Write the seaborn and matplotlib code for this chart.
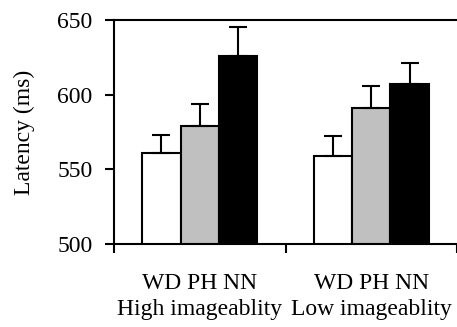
import numpy as np
import pandas as pd
import seaborn as sns
import matplotlib.pyplot as plt

# values
groups = ["High imageablity", "Low imageablity"]
conditions = ["WD", "PH", "NN"]
latency_high = [561, 579, 626]
latency_low = [559, 591, 607]
sem_high = [12, 15, 19]
sem_low = [13, 15, 14]
bar_colors = ["white", "#c0c0c0", "black"]

df = pd.DataFrame({
    "group": np.repeat(groups, len(conditions)),
    "condition": conditions * len(groups),
    "latency": latency_high + latency_low,
})
errs = {"High imageablity": dict(zip(conditions, sem_high)),
        "Low imageablity": dict(zip(conditions, sem_low))}

sns.set_style("ticks")
plt.rcParams["font.family"] = ["Liberation Serif", "DejaVu Serif"]
plt.rcParams["text.color"] = "black"
plt.rcParams["axes.labelcolor"] = "black"
plt.rcParams["xtick.color"] = "black"
plt.rcParams["ytick.color"] = "black"
fs = 17

fig = plt.figure(figsize=(4.57, 3.27), dpi=100)
ax = fig.add_axes([0.2495, 0.2538, 0.7505, 0.685])

sns.barplot(data=df, x="group", y="latency", hue="condition",
            order=groups, hue_order=conditions, palette=bar_colors,
            edgecolor="black", linewidth=1.5, width=0.67,
            errorbar=None, legend=False, ax=ax)

# one-sided error bars on top of each bar
for cond, cont in zip(conditions, ax.containers):
    for grp, bar in zip(groups, cont):
        x = bar.get_x() + bar.get_width() / 2
        y = bar.get_height()
        e = errs[grp][cond]
        ax.errorbar(x, y, yerr=[[0], [e]], fmt="none", ecolor="black",
                    elinewidth=1.5, capsize=6.5, capthick=1.5, zorder=5)

ax.set_ylim(500, 650)
ax.set_yticks([500, 550, 600, 650])
ax.set_xlim(-0.5, 1.5)
ax.set_xticks([0, 1])
ax.set_xticklabels([f"WD PH NN\n{g}" for g in groups], fontsize=fs,
                   linespacing=1.3)
ax.set_xticks([-0.5, 0.5, 1.5], minor=True)
ax.tick_params(axis="x", which="major", length=0, pad=21)
ax.tick_params(axis="x", which="minor", length=6.5, width=1.5)
ax.tick_params(axis="y", length=6.5, width=1.5, pad=9, labelsize=fs)
ax.set_xlabel("")
ax.set_ylabel("Latency (ms)", fontsize=fs, labelpad=16)

for side in ["left", "bottom", "top"]:
    ax.spines[side].set_linewidth(1.5)
    ax.spines[side].set_color("black")
ax.spines["right"].set_visible(False)

fig.savefig("out.png", dpi=100)
